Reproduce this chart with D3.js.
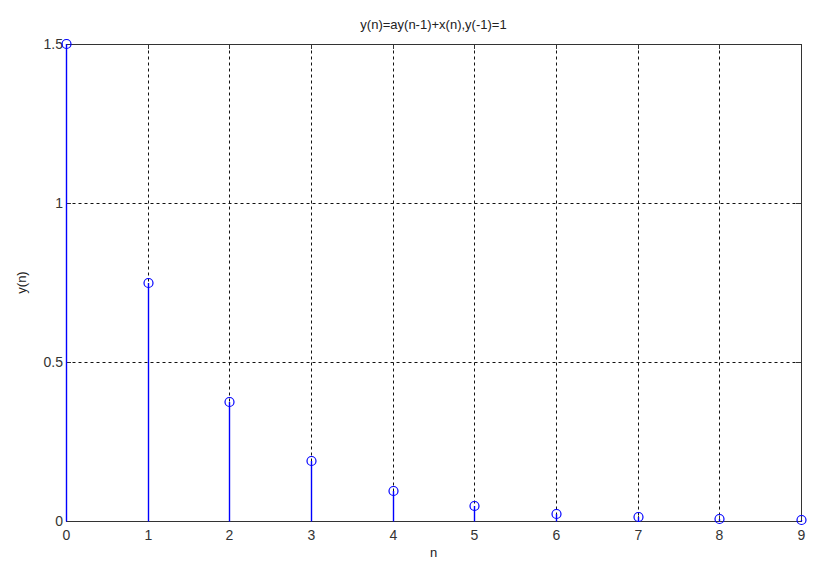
<!DOCTYPE html>
<html>
<head>
<meta charset="utf-8">
<script src="https://cdn.jsdelivr.net/npm/d3@7"></script>
<style>
  body { margin: 0; background: #fff; }
  svg text { font-family: "Liberation Sans", Arial, sans-serif; font-size: 12px; fill: #222; }
</style>
</head>
<body>
<div class="chart"></div>
<script>
// data
var nValues = [0, 1, 2, 3, 4, 5, 6, 7, 8, 9];
var yValues = [1.5, 0.75, 0.375, 0.1875, 0.09375, 0.046875, 0.0234, 0.0117, 0.0059, 0.0029];
var xTicks = [0, 1, 2, 3, 4, 5, 6, 7, 8, 9];
var yTicks = [0, 0.5, 1, 1.5];
var yTickLabels = ["0", "0.5", "1", "1.5"];

var width = 824, height = 568;
var margin = {left: 66, right: 23, top: 44, bottom: 47};

var svg = d3.select(".chart").append("svg")
    .attr("width", width)
    .attr("height", height);

var x = d3.scaleLinear().domain([0, 9]).rangeRound([margin.left, width - margin.right]);
var y = d3.scaleLinear().domain([0, 1.5]).rangeRound([height - margin.bottom, margin.top]);

// half pixel so 1px lines land on one pixel column
function px(v){ return v + 0.5; }

// grid
svg.append("g").selectAll("line")
    .data(xTicks.slice(1, -1))
    .enter().append("line")
    .attr("x1", function(d){ return px(x(d)); })
    .attr("x2", function(d){ return px(x(d)); })
    .attr("y1", px(y(0))).attr("y2", px(y(1.5)))
    .attr("stroke", "#111").attr("stroke-dasharray", "3,3");

svg.append("g").selectAll("line")
    .data(yTicks.slice(1, -1))
    .enter().append("line")
    .attr("y1", function(d){ return px(y(d)); })
    .attr("y2", function(d){ return px(y(d)); })
    .attr("x1", px(x(0))).attr("x2", px(x(9)))
    .attr("stroke", "#111").attr("stroke-dasharray", "3,3");

// axes box
svg.append("rect")
    .attr("x", px(x(0))).attr("y", px(y(1.5)))
    .attr("width", x(9) - x(0)).attr("height", y(0) - y(1.5))
    .attr("fill", "none").attr("stroke", "#333").attr("stroke-width", 1);

svg.append("g")
    .attr("transform", "translate(0," + y(0) + ")")
    .call(d3.axisBottom(x).tickValues(xTicks).tickSizeInner(-5).tickSizeOuter(0).tickPadding(9));
svg.append("g")
    .attr("transform", "translate(0," + y(1.5) + ")")
    .call(d3.axisTop(x).tickValues(xTicks).tickSizeInner(-5).tickSizeOuter(0).tickFormat(""));
svg.append("g")
    .attr("transform", "translate(" + x(0) + ",0)")
    .call(d3.axisLeft(y).tickValues(yTicks).tickSizeInner(-5).tickSizeOuter(0).tickPadding(3)
      .tickFormat(function(d, i){ return yTickLabels[i]; }));
svg.append("g")
    .attr("transform", "translate(" + x(9) + ",0)")
    .call(d3.axisRight(y).tickValues(yTicks).tickSizeInner(-5).tickSizeOuter(0).tickFormat(""));

svg.selectAll(".domain").remove();
svg.selectAll(".tick line").attr("stroke", "#333");
svg.selectAll(".tick text").style("font-size", "14px").style("fill", "#333")
   .style("font-family", "Liberation Sans, Arial, sans-serif");

// stems
svg.append("g").selectAll("line")
    .data(nValues)
    .enter().append("line")
    .attr("x1", function(d){ return px(x(d)); })
    .attr("x2", function(d){ return px(x(d)); })
    .attr("y1", px(y(0)))
    .attr("y2", function(d, i){ return y(yValues[i]); })
    .attr("stroke", "#0000ff").attr("stroke-width", 1.4);

svg.append("g").selectAll("circle")
    .data(nValues)
    .enter().append("circle")
    .attr("cx", function(d){ return px(x(d)); })
    .attr("cy", function(d, i){ return y(yValues[i]); })
    .attr("r", 4.5)
    .attr("fill", "none").attr("stroke", "#0000ff").attr("stroke-width", 1.2);

// labels
svg.append("text")
    .attr("x", (x(0) + x(9)) / 2).attr("y", 29)
    .attr("text-anchor", "middle")
    .style("font-size", "13px")
    .text("y(n)=ay(n-1)+x(n),y(-1)=1");

svg.append("text")
    .attr("x", (x(0) + x(9)) / 2).attr("y", 557)
    .attr("text-anchor", "middle")
    .style("font-size", "13px")
    .text("n");

svg.append("text")
    .attr("transform", "translate(26," + ((y(0) + y(1.5)) / 2) + ") rotate(-90)")
    .attr("text-anchor", "middle")
    .style("font-size", "13px")
    .text("y(n)");
</script>
</body>
</html>
